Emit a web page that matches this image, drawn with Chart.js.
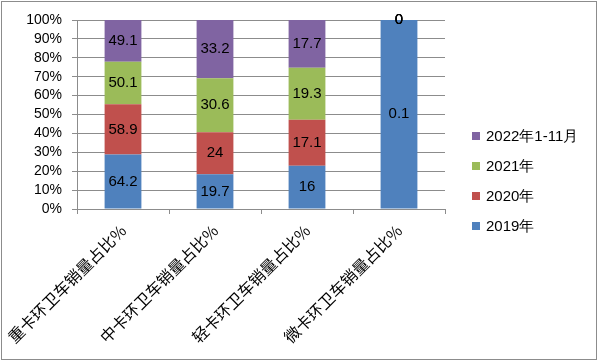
<!DOCTYPE html>
<html>
<head>
<meta charset="utf-8">
<script src="https://cdn.jsdelivr.net/npm/chart.js@4/dist/chart.umd.min.js"></script>
<style>
  body { margin: 0; background: #fff; }
  #wrap { width: 601px; height: 362px; position: relative; }
</style>
</head>
<body>
<div id="wrap"><canvas id="c"></canvas></div>
<script>
// categories and raw values
const categories = ["重卡环卫车销量占比%", "中卡环卫车销量占比%", "轻卡环卫车销量占比%", "微卡环卫车销量占比%"];
const seriesNames = ["2019年", "2020年", "2021年", "2022年1-11月"];
const v2019 = [64.2, 19.7, 16, 0.1];
const v2020 = [58.9, 24, 17.1, 0];
const v2021 = [50.1, 30.6, 19.3, 0];
const v2022 = [49.1, 33.2, 17.7, 0];
const yTicks = [0, 10, 20, 30, 40, 50, 60, 70, 80, 90, 100];

const colors = ["#4F81BD", "#C0504D", "#9BBB59", "#8064A2"];
const raw = [v2019, v2020, v2021, v2022];

// 100% stacked: turn each column into shares
const totals = categories.map((_, i) => raw.reduce((s, arr) => s + arr[i], 0));
const datasets = raw.map((arr, k) => ({
  label: seriesNames[k],
  data: arr.map((v, i) => v / totals[i] * 100),
  rawValues: arr,
  backgroundColor: colors[k],
  borderWidth: 0,
  categoryPercentage: 1,
  barPercentage: 0.4
}));

// labels inside segments
const valueLabels = {
  id: 'valueLabels',
  afterDatasetsDraw(chart) {
    const ctx = chart.ctx;
    ctx.save();
    ctx.font = '15px "Liberation Sans", Arial, sans-serif';
    ctx.fillStyle = '#000';
    ctx.textAlign = 'center';
    ctx.textBaseline = 'middle';
    chart.data.datasets.forEach((ds, k) => {
      chart.getDatasetMeta(k).data.forEach((bar, i) => {
        const y = (bar.y + bar.base) / 2;
        ctx.fillText(String(ds.rawValues[i]), bar.x, y);
      });
    });
    ctx.restore();
  }
};

// frame and legend on the right
const frameLegend = {
  id: 'frameLegend',
  afterDraw(chart) {
    const ctx = chart.ctx;
    ctx.save();
    ctx.strokeStyle = '#8c8c8c';
    ctx.lineWidth = 1;
    ctx.strokeRect(1.5, 1.5, 595, 358);

    const area = chart.chartArea;
    ctx.font = '15px "Liberation Sans", Arial, sans-serif';
    ctx.textBaseline = 'middle';
    ctx.textAlign = 'left';
    const n = chart.data.datasets.length;
    for (let j = 0; j < n; j++) {
      const k = n - 1 - j;
      const ds = chart.data.datasets[k];
      const cy = 136 + j * 30;
      ctx.fillStyle = ds.backgroundColor;
      ctx.fillRect(area.right + 27, cy - 4, 8, 8);
      ctx.fillStyle = '#000';
      ctx.fillText(ds.label, area.right + 41, cy + 1);
    }
    ctx.restore();
  }
};

new Chart(document.getElementById('c'), {
  type: 'bar',
  data: { labels: categories, datasets },
  options: {
    responsive: true,
    maintainAspectRatio: false,
    animation: false,
    layout: { padding: { top: 20, right: 156, bottom: 0, left: 0 } },
    plugins: { legend: { display: false }, tooltip: { enabled: false } },
    scales: {
      x: {
        stacked: true,
        afterFit(s) { s.height = 153; s.paddingLeft = 0; s.paddingRight = 0; },
        grid: { offset: true, drawOnChartArea: false, drawTicks: true, tickLength: 5, color: '#8c8c8c' },
        border: { color: '#8c8c8c' },
        ticks: {
          minRotation: 45, maxRotation: 45, padding: 7,
          color: '#000',
          font: { family: '"Noto Sans CJK SC", sans-serif', size: 16 }
        }
      },
      y: {
        stacked: true,
        min: 0, max: 100,
        afterFit(s) { s.width = 77; },
        afterBuildTicks(s) { s.ticks = yTicks.map(v => ({ value: v })); },
        grid: { color: '#8c8c8c', tickLength: 5 },
        border: { color: '#8c8c8c' },
        ticks: {
          color: '#000', padding: 10, autoSkip: false, stepSize: 10,
          font: { family: '"Liberation Sans", Arial, sans-serif', size: 14 },
          callback: v => v + '%'
        }
      }
    }
  },
  plugins: [valueLabels, frameLegend]
});
</script>
</body>
</html>
